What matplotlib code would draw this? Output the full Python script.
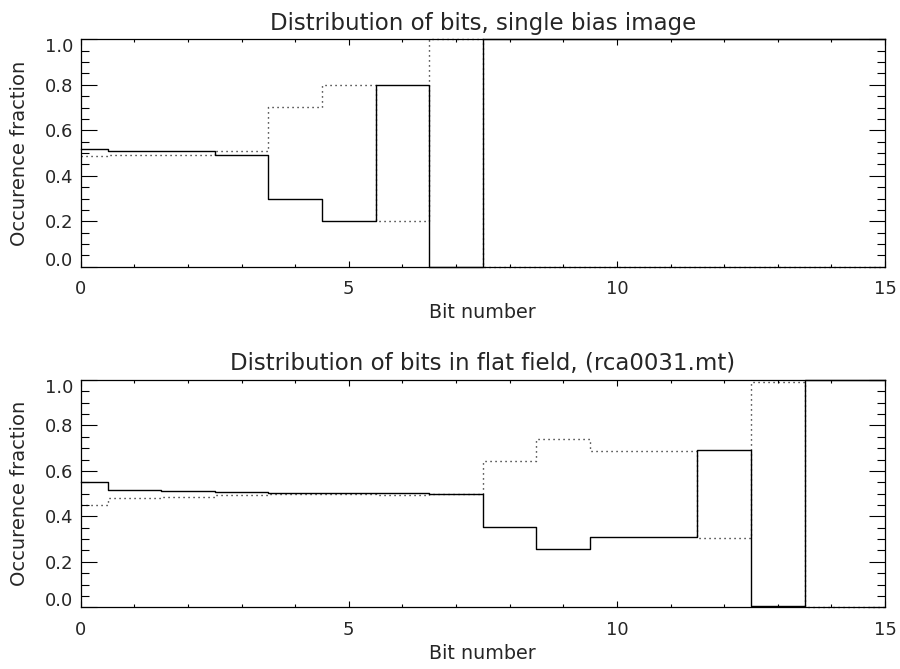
import matplotlib
matplotlib.use("Agg")
import matplotlib.pyplot as plt
import numpy as np
from matplotlib.transforms import ScaledTranslation
from matplotlib.ticker import MultipleLocator

bits = list(range(16))

# Top panel: single bias image
bias_solid = [0.519, 0.507, 0.507, 0.493, 0.299, 0.200, 0.800, 0.0,
              1.0, 1.0, 1.0, 1.0, 1.0, 1.0, 1.0, 1.0]
bias_dotted = [0.485, 0.493, 0.493, 0.510, 0.703, 0.800, 0.200, 1.0,
               0.0, 0.0, 0.0, 0.0, 0.0, 0.0, 0.0, 0.0]

# Bottom panel: flat field
flat_solid = [0.550, 0.516, 0.513, 0.506, 0.503, 0.501, 0.504, 0.499,
              0.353, 0.258, 0.308, 0.311, 0.694, 0.006, 1.0, 1.0]
flat_dotted = [0.450, 0.482, 0.487, 0.493, 0.498, 0.498, 0.496, 0.500,
               0.645, 0.740, 0.689, 0.686, 0.304, 0.993, 0.0, 0.0]

titles = ["Distribution of bits, single bias image",
          "Distribution of bits in flat field, (rca0031.mt)"]
xlabel = "Bit number"
ylabel = "Occurence fraction"
xticks = [0, 5, 10, 15]
yticks = [0.0, 0.2, 0.4, 0.6, 0.8, 1.0]

plt.rcParams['font.family'] = ['DejaVu Sans']
TXT = '#262626'

fig = plt.figure(figsize=(9.0, 6.69), dpi=100)
positions = [[0.0897, 0.6013, 0.8936, 0.3399],
             [0.0897, 0.0922, 0.8936, 0.3398]]
data = [(bias_solid, bias_dotted), (flat_solid, flat_dotted)]

for pos, title, (solid, dotted) in zip(positions, titles, data):
    ax = fig.add_axes(pos)
    ax.step(bits, dotted, where='mid', color='black', lw=1.0,
            linestyle=(0, (0.8, 2.8)), zorder=3, clip_on=False)
    ax.step(bits, solid, where='mid', color='black', lw=1.0, zorder=4,
            clip_on=False)
    ax.set_xlim(0, 15)
    ax.set_ylim(0, 1)
    ax.set_xticks(xticks)
    ax.set_xticklabels([str(t) for t in xticks])
    ax.xaxis.set_minor_locator(MultipleLocator(1))
    ax.set_yticks(yticks)
    ax.set_yticklabels(["%.1f" % t for t in yticks])
    ax.yaxis.set_minor_locator(MultipleLocator(0.05))
    ax.tick_params(axis='x', which='major', direction='in', length=4.5,
                   width=0.8, top=True, bottom=True, labelsize=13,
                   pad=9.5, labelcolor=TXT)
    ax.tick_params(axis='x', which='minor', direction='in', length=2.3,
                   width=0.8, top=True, bottom=True)
    ax.tick_params(axis='y', which='major', direction='in', length=11.5,
                   width=0.8, left=True, right=True, labelsize=13,
                   pad=5.5, labelcolor=TXT)
    ax.tick_params(axis='y', which='minor', direction='in', length=5.8,
                   width=0.8, left=True, right=True)
    for sp in ax.spines.values():
        sp.set_linewidth(0.9)
    ax.set_title(title, fontsize=16.5, color=TXT, pad=7)
    ax.set_xlabel(xlabel, fontsize=13.8, color=TXT, labelpad=4)
    ax.set_ylabel(ylabel, fontsize=14, color=TXT, labelpad=11)
    labs = ax.get_yticklabels()
    labs[0].set_transform(labs[0].get_transform() +
                          ScaledTranslation(0, 8 / 100, fig.dpi_scale_trans))
    labs[-1].set_transform(labs[-1].get_transform() +
                           ScaledTranslation(0, -6 / 100, fig.dpi_scale_trans))

fig.savefig("out.png", dpi=100, facecolor='white')
